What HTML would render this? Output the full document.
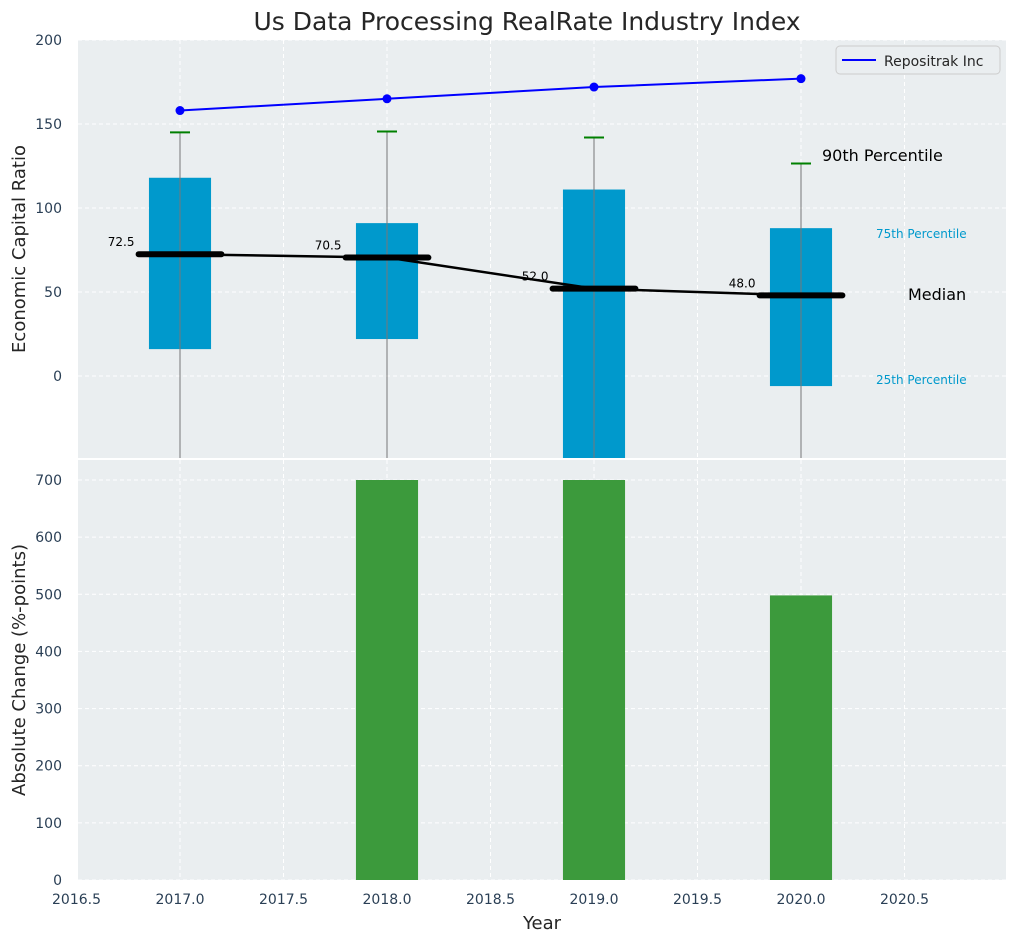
<!DOCTYPE html>
<html><head><meta charset="utf-8"><style>
body{margin:0;background:#fff;font-family:"Liberation Sans","DejaVu Sans",sans-serif}
svg text{font-family:"DejaVu Sans","Liberation Sans",sans-serif}
</style></head><body>
<svg id="chart" width="1016" height="942" xmlns="http://www.w3.org/2000/svg">
<rect width="1016" height="942" fill="#fff"/>
<text x="527" y="30" font-size="25" text-anchor="middle" fill="#262626">Us Data Processing RealRate Industry Index</text>
<rect x="78" y="40" width="928" height="418" fill="#eaeef0"/>
<rect x="78" y="460" width="928" height="420" fill="#eaeef0"/>
<g id="grid"></g><g id="marks"></g><g id="axes"></g>
<text transform="translate(25,249) rotate(-90)" font-size="18" text-anchor="middle" fill="#262626">Economic Capital Ratio</text>
<text transform="translate(25,670) rotate(-90)" font-size="18" text-anchor="middle" fill="#262626">Absolute Change (%-points)</text>
<text x="542" y="929" font-size="18" text-anchor="middle" fill="#262626">Year</text>
<g>
<rect x="836" y="46" width="164" height="28" rx="4" fill="#eaeef0" stroke="#ccc"/>
<line x1="842" y1="60" x2="876" y2="60" stroke="#0000ff" stroke-width="2"/>
<text x="884" y="66" font-size="14" fill="#262626">Repositrak Inc</text>
</g>
<text x="822" y="161" font-size="16" fill="#000">90th Percentile</text>
<text x="876" y="238" font-size="12" fill="#0099cc">75th Percentile</text>
<text x="908" y="300" font-size="16" fill="#000">Median</text>
<text x="876" y="384" font-size="12" fill="#0099cc">25th Percentile</text>
</svg>
<script>
const years=[2017,2018,2019,2020];
const q1=[16,22,-60,-6];
const q3=[118,91,111,88];
const p90=[145,145.5,142,126.5];
const medians=[72.5,70.5,52.0,48.0];
const company=[158,165,172,177];
const changeYears=[2018,2019,2020];
const changes=[700,700,498];
const xTicks=[2016.5,2017.0,2017.5,2018.0,2018.5,2019.0,2019.5,2020.0,2020.5];
const yTopTicks=[0,50,100,150,200];
const yBotTicks=[0,100,200,300,400,500,600,700];
const NS="http://www.w3.org/2000/svg";
const X=v=>76.5+(v-2016.5)*207;
const YT=v=>376-v*84/50;
const YB=v=>880-v*400/700;
function mk(p,t,a){const e=document.createElementNS(NS,t);for(const k in a)e.setAttribute(k,a[k]);p.appendChild(e);return e;}
const gridG=document.getElementById('grid'),marksG=document.getElementById('marks'),axesG=document.getElementById('axes');
xTicks.forEach(t=>{
 [[40,458],[460,880]].forEach(r=>{const l=mk(gridG,'line',{x1:X(t),x2:X(t),y1:r[0],y2:r[1],stroke:'#fff','stroke-dasharray':'4,3','stroke-width':1});
 
 });
 const tx=mk(axesG,'text',{x:X(t),y:904,'font-size':14,'text-anchor':'middle',fill:'#2a3f55'});tx.textContent=t.toFixed(1);
 
 
});
yTopTicks.forEach(t=>{
 const l=mk(gridG,'line',{x1:78,x2:1006,y1:YT(t),y2:YT(t),stroke:'#fff','stroke-dasharray':'4,3'});
 
 
 const tx=mk(axesG,'text',{x:62,y:YT(t)+5,'font-size':14,'text-anchor':'end',fill:'#2a3f55'});tx.textContent=t;
 
 
});
yBotTicks.forEach(t=>{
 const l=mk(gridG,'line',{x1:78,x2:1006,y1:YB(t),y2:YB(t),stroke:'#fff','stroke-dasharray':'4,3'});
 
 
 const tx=mk(axesG,'text',{x:62,y:YB(t)+5,'font-size':14,'text-anchor':'end',fill:'#2a3f55'});tx.textContent=t;
 
 
});
const clipP=mk(marksG,'clipPath',{id:'ct'});mk(clipP,'rect',{x:78,y:40,width:928,height:418});
const topG=mk(marksG,'g',{'clip-path':'url(#ct)'});
years.forEach((y,i)=>{
 const b=mk(topG,'rect',{x:X(y-0.15),y:YT(q3[i]),width:0.3*207,height:YT(q1[i])-YT(q3[i]),fill:'#0099cc'});
 
 
 const w=mk(topG,'line',{x1:X(y),x2:X(y),y1:YT(p90[i]),y2:470,stroke:'#777','stroke-width':1});
 
 
 const c=mk(topG,'line',{x1:X(y)-10,x2:X(y)+10,y1:YT(p90[i]),y2:YT(p90[i]),stroke:'#008000','stroke-width':2});
 
 
});
const mp=mk(topG,'polyline',{points:years.map((y,i)=>X(y)+','+YT(medians[i])).join(' '),fill:'none',stroke:'#000','stroke-width':2.5});


years.forEach((y,i)=>{
 const m=mk(topG,'line',{x1:X(y-0.2),x2:X(y+0.2),y1:YT(medians[i]),y2:YT(medians[i]),stroke:'#000','stroke-width':6,'stroke-linecap':'round'});
 
 
 const t=mk(topG,'text',{x:X(y-0.22),y:YT(medians[i])-8,'font-size':12,'text-anchor':'end',fill:'#000'});t.textContent=medians[i].toFixed(1);
 
 
});
const cl=mk(topG,'polyline',{points:years.map((y,i)=>X(y)+','+YT(company[i])).join(' '),fill:'none',stroke:'#0000ff','stroke-width':2});


years.forEach((y,i)=>{const p=mk(topG,'circle',{cx:X(y),cy:YT(company[i]),r:4.5,fill:'#0000ff'});
 
 });
changeYears.forEach((y,i)=>{
 const b=mk(marksG,'rect',{x:X(y-0.15),y:YB(changes[i]),width:0.3*207,height:880-YB(changes[i]),fill:'#3c9a3c'});
 
 
});
</script>
</body></html>
